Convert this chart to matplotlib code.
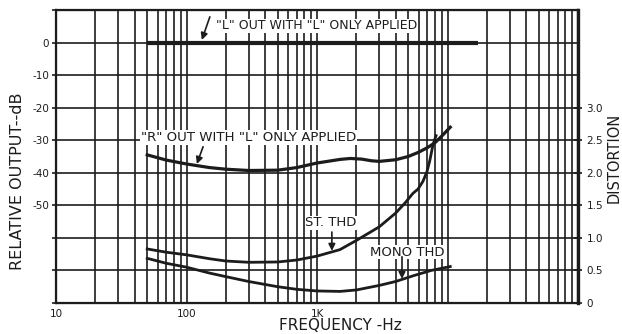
import matplotlib.pyplot as plt
from matplotlib.ticker import FixedLocator, FixedFormatter, NullFormatter

# "L" output with only "L" driven (dB)
l_freq = [50, 17000]
l_db = [0, 0]

# "R" output (crosstalk) with only "L" driven (dB)
r_freq = [50, 70, 100, 150, 200, 300, 500, 700, 1000, 1500, 1800, 2200,
          2600, 3000, 4000, 5000, 6000, 7000, 8000, 9000, 10500]
r_db = [-34.5, -36.1, -37.3, -38.4, -38.9, -39.3, -39.2, -38.4, -37.0, -35.9,
        -35.6, -35.8, -36.3, -36.5, -36.0, -35.0, -33.7, -32.3, -30.8, -28.8,
        -26.0]

# stereo THD (%)
st_freq = [50, 70, 100, 150, 200, 300, 500, 700, 1000, 1500, 2000, 3000,
           4000, 4720, 5440, 5950, 6490, 6970, 7340, 7740, 8170]
st_thd = [0.83, 0.78, 0.74, 0.68, 0.645, 0.625, 0.63, 0.66, 0.72, 0.82,
          0.96, 1.17, 1.38, 1.535, 1.685, 1.75, 1.87, 2.02, 2.20, 2.43, 2.57]

# mono THD (%)
mono_freq = [50, 70, 100, 150, 200, 300, 500, 700, 1000, 1500, 2000, 3000,
             4000, 5500, 7500, 10500]
mono_thd = [0.686, 0.61, 0.55, 0.46, 0.405, 0.33, 0.25, 0.21, 0.185, 0.178,
            0.20, 0.27, 0.33, 0.42, 0.50, 0.56]

db_ticks = [-80, -70, -60, -50, -40, -30, -20, -10, 0, 10]
db_labels = ['', '', '', '-50', '-40', '-30', '-20', '-10', '0', '']
thd_ticks = [0, 0.5, 1.0, 1.5, 2.0, 2.5, 3.0]
thd_labels = ['0', '0.5', '1.0', '1.5', '2.0', '2.5', '3.0']
freq_ticks = [10, 100, 1000, 10000, 100000]
freq_labels = ['10', '100', '1K', '', '']

ink = '#1c1c1c'
plt.rcParams['font.family'] = 'DejaVu Sans'

fig = plt.figure(figsize=(6.22, 3.34), dpi=100)
ax = fig.add_axes([56/622, 1-303/334, 522/622, 293/334])
ax.set_xscale('log')
ax.set_xlim(10, 100000)
ax.set_ylim(-80, 10)

# log-paper grid
ax.xaxis.set_major_locator(FixedLocator(freq_ticks))
ax.xaxis.set_major_formatter(FixedFormatter(freq_labels))
ax.xaxis.set_minor_formatter(NullFormatter())
ax.set_yticks(db_ticks)
ax.set_yticklabels(db_labels)
ax.grid(True, which='both', color=ink, lw=1.2)
ax.set_axisbelow(True)
ax.tick_params(axis='x', which='both', length=0, pad=4, labelsize=7.5, colors=ink)
ax.tick_params(axis='y', length=3, width=1.2, direction='out', pad=2,
               labelsize=7.5, colors=ink)
for s in ax.spines.values():
    s.set_color(ink)
    s.set_linewidth(1.6)

ax.plot(l_freq, l_db, color=ink, lw=3, solid_capstyle='butt')
ax.plot(r_freq, r_db, color=ink, lw=2.3)

# distortion scale on the right
ax2 = ax.twinx()
ax2.set_ylim(0, 4.5)
ax2.set_yticks(thd_ticks)
ax2.set_yticklabels(thd_labels)
ax2.tick_params(axis='y', length=6, width=1.2, direction='inout', pad=3,
                labelsize=7.5, colors=ink)
ax2.spines['right'].set_linewidth(2.4)
for s in ax2.spines.values():
    s.set_color(ink)
ax2.plot(st_freq, st_thd, color=ink, lw=2.0)
ax2.plot(mono_freq, mono_thd, color=ink, lw=2.0)

box = dict(facecolor='white', edgecolor='none', pad=0.5)
arrow = dict(arrowstyle='-|>', color=ink, lw=1.2, mutation_scale=10,
             shrinkA=0, shrinkB=0)

ax2.text(1000, 5.1, '"L" OUT WITH "L" ONLY APPLIED', transform=ax.transData,
         ha='center', va='center', fontsize=9, color=ink, bbox=box)
ax2.annotate('', xy=(131, 0.8), xytext=(151, 7.9),
             xycoords=ax.transData, textcoords=ax.transData, arrowprops=arrow)

ax2.text(300, -29.2, '"R" OUT WITH "L" ONLY APPLIED', transform=ax.transData,
         ha='center', va='center', fontsize=9.6, color=ink, bbox=box)
ax2.annotate('', xy=(120, -37.3), xytext=(134, -32),
             xycoords=ax.transData, textcoords=ax.transData, arrowprops=arrow)

ax2.text(1280, 1.23, 'ST. THD', ha='center', va='center', fontsize=9.5,
         color=ink, bbox=box)
ax2.annotate('', xy=(1300, 0.80), xytext=(1300, 1.09), arrowprops=arrow)

ax2.text(4930, 0.78, 'MONO THD', ha='center', va='center', fontsize=9.5,
         color=ink, bbox=box)
ax2.annotate('', xy=(4480, 0.37), xytext=(4480, 0.71), arrowprops=arrow)

fig.text(18/622, 1-181/334, 'RELATIVE OUTPUT--dB', rotation=90, ha='center',
         va='center', fontsize=11.5, color=ink)
fig.text(614/622, 1-158/334, 'DISTORTION', rotation=90, ha='center',
         va='center', fontsize=10.5, color=ink)
fig.text(340/622, 1-325/334, 'FREQUENCY -Hz', ha='center', va='center',
         fontsize=11, color=ink)

fig.savefig('out.png', dpi=100)
